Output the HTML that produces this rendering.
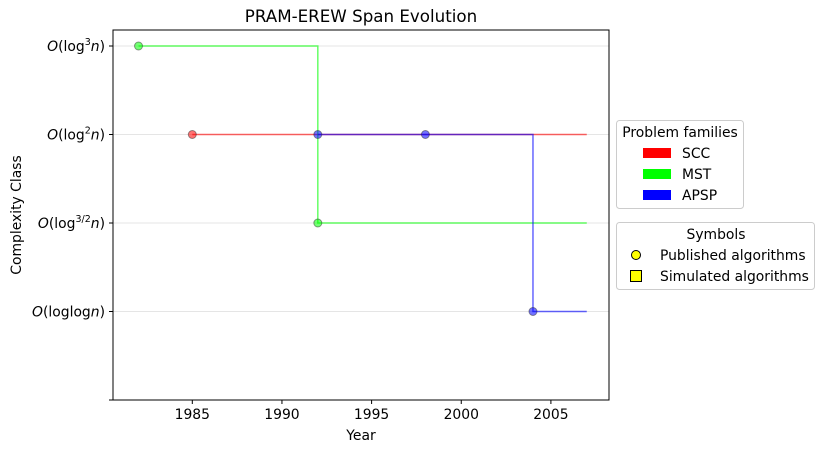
<!DOCTYPE html>
<html><head><meta charset="utf-8"><style>
body{margin:0;background:#fff;}
text{font-family:"DejaVu Sans","Liberation Sans",sans-serif;}
</style></head><body>
<svg id="c" width="824" height="453" xmlns="http://www.w3.org/2000/svg">
<rect width="824" height="453" fill="#fff"/>
<text x="361" y="22" font-size="16.7" text-anchor="middle">PRAM-EREW Span Evolution</text>
<g id="grid"></g>
<g id="series"></g>
<rect x="113" y="30" width="496" height="370" fill="none" stroke="#000" stroke-width="1"/>
<g id="xt"></g>
<g id="yt"></g>
<text x="361" y="440" font-size="13.9" text-anchor="middle">Year</text>
<text transform="translate(21,215) rotate(-90)" font-size="13.9" text-anchor="middle">Complexity Class</text>
<g>
<rect x="616.5" y="120.5" width="127" height="88" rx="3" fill="#fff" stroke="#ccc"/>
<text x="680" y="137" font-size="13.9" text-anchor="middle">Problem families</text>
<rect x="643" y="148" width="28" height="10" fill="#ff0000"/>
<text x="682" y="158" font-size="13.9">SCC</text>
<rect x="643" y="169" width="28" height="10" fill="#00ff00"/>
<text x="682" y="179" font-size="13.9">MST</text>
<rect x="643" y="190" width="28" height="10" fill="#0000ff"/>
<text x="682" y="200" font-size="13.9">APSP</text>
</g>
<g>
<rect x="616.5" y="222.5" width="198" height="67" rx="3" fill="#fff" stroke="#ccc"/>
<text x="716" y="239" font-size="13.9" text-anchor="middle">Symbols</text>
<circle cx="636" cy="255" r="4.5" fill="#ffff00" stroke="#000"/>
<text x="660" y="260" font-size="13.9">Published algorithms</text>
<rect x="630.5" y="270.5" width="11" height="11" fill="#ffff00" stroke="#000"/>
<text x="660" y="281" font-size="13.9">Simulated algorithms</text>
</g>
</svg>
<script>
const xTicks=[1985,1990,1995,2000,2005];
const yLevels=[0,1,2,3,4];
const yLabels=["","O(loglogn)","O(log3/2n)","O(log2n)","O(log3n)"];
const endYear=2007;
const sccYears=[1985];
const sccLevels=[3];
const mstYears=[1982,1992];
const mstLevels=[4,2];
const apspYears=[1992,1998,2004];
const apspLevels=[3,3,1];
const X=y=>192.3+(y-1985)*17.93;
const Y=v=>400-v*88.5;
const NS="http://www.w3.org/2000/svg";
function mk(t,a,p){const e=document.createElementNS(NS,t);for(const k in a)e.setAttribute(k,a[k]);p.appendChild(e);return e;}
const grid=document.getElementById('grid'),xt=document.getElementById('xt'),yt=document.getElementById('yt'),ser=document.getElementById('series');
xTicks.forEach(t=>{
 const l=mk('line',{x1:X(t),x2:X(t),y1:400,y2:404,stroke:'#000'},xt);
 
 
 const tx=mk('text',{x:X(t),y:419,'font-size':13.9,'text-anchor':'middle'},xt);tx.textContent=t;
 
 
});
yLevels.forEach((v,i)=>{
 if(v>0){const g=mk('line',{x1:113,x2:609,y1:Y(v),y2:Y(v),stroke:'#ddd','stroke-width':0.8},grid);
 
 }
 const l=mk('line',{x1:109,x2:113,y1:Y(v),y2:Y(v),stroke:'#000'},yt);
 
 
 const lab=yLabels[i];if(!lab)return;
 const tx=mk('text',{x:105,y:Y(v)+5,'font-size':13.9,'text-anchor':'end'},yt);
 
 
 const m=lab.match(/^O\(log(.*)n\)$/);
 const a=document.createElementNS(NS,'tspan');a.setAttribute('font-style','italic');a.textContent='O';tx.appendChild(a);
 const b=document.createElementNS(NS,'tspan');
 if(m[1]==='log'){b.textContent='(loglog';tx.appendChild(b);}
 else{b.textContent='(log';tx.appendChild(b);const s=document.createElementNS(NS,'tspan');s.setAttribute('font-size','9.5');s.setAttribute('dy','-6');s.textContent=m[1];tx.appendChild(s);}
 const n=document.createElementNS(NS,'tspan');n.setAttribute('font-style','italic');if(m[1]!=='log')n.setAttribute('dy','6');n.textContent='n';tx.appendChild(n);
 const c=document.createElementNS(NS,'tspan');c.textContent=')';tx.appendChild(c);
});
function draw(name,years,levels,color){
 let d='M'+X(years[0])+','+Y(levels[0]);
 for(let i=1;i<years.length;i++){d+=' H'+X(years[i])+' V'+Y(levels[i]);}
 d+=' H'+X(endYear);
 const p=mk('path',{d:d,fill:'none',stroke:color,'stroke-opacity':0.6,'stroke-width':1.5},ser);
 
 
 years.forEach((y,i)=>{
  const c=mk('circle',{cx:X(y),cy:Y(levels[i]),r:4,fill:color,'fill-opacity':0.55,stroke:'#333','stroke-opacity':0.5},ser);
  
  
 });
}
draw('scc',sccYears,sccLevels,'#ff0000');
draw('mst',mstYears,mstLevels,'#00ff00');
draw('apsp',apspYears,apspLevels,'#0000ff');
</script>
</body></html>
